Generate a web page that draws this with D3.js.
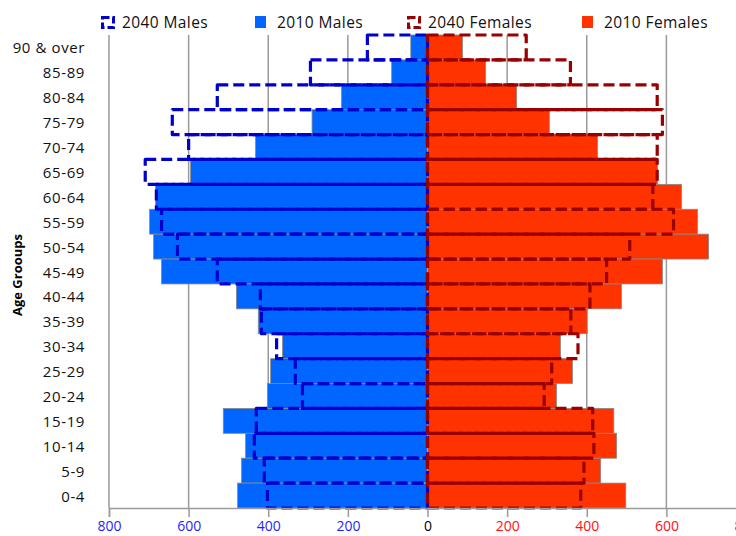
<!DOCTYPE html>
<html>
<head>
<meta charset="utf-8">
<script src="https://cdn.jsdelivr.net/npm/d3@7"></script>
<style>
  body { margin: 0; background: #fff; }
  text { font-family: "Open Sans", "DejaVu Sans", sans-serif; }
</style>
</head>
<body>
<div id="chart"></div>
<script>
// age groups, top to bottom
var ageGroups = ["90 & over", "85-89", "80-84", "75-79", "70-74", "65-69", "60-64", "55-59",
  "50-54", "45-49", "40-44", "35-39", "30-34", "25-29", "20-24", "15-19", "10-14", "5-9", "0-4"];

var males2010 = [42, 90, 216, 290, 432, 595, 683, 698, 688, 668, 480, 425, 364, 394, 402, 513, 457, 467, 477];
var males2040 = [151, 294, 528, 641, 600, 709, 681, 668, 628, 528, 420, 417, 379, 332, 314, 430, 435, 410, 402];
var females2010 = [88, 146, 224, 306, 427, 578, 638, 678, 706, 590, 487, 401, 334, 364, 324, 468, 475, 435, 498];
var females2040 = [248, 359, 577, 590, 577, 577, 566, 618, 508, 450, 408, 360, 378, 312, 293, 415, 418, 393, 385];

var xTicks = [-800, -600, -400, -200, 0, 200, 400, 600, 800];

var legendItems = [
  {name: "2040 Males", dashed: true, color: "#0000CC", x: 101},
  {name: "2010 Males", dashed: false, color: "#0066FF", x: 255},
  {name: "2040 Females", dashed: true, color: "#990000", x: 407},
  {name: "2010 Females", dashed: false, color: "#FF3300", x: 582}
];

var MALE_FILL = "#0066FF", FEMALE_FILL = "#FF3300";
var MALE_LINE = "#0000CC", FEMALE_LINE = "#990000";
var GRID = "#9a9a9a";

var width = 736, height = 536;
var svg = d3.select("#chart").append("svg").attr("width", width).attr("height", height);

var x = d3.scaleLinear().domain([-800, 800]).range([109, 746]);
var y = d3.scaleBand().domain(ageGroups).range([35, 508]).padding(0);

// gridlines
svg.append("g").selectAll("line").data(xTicks.filter(function(d){ return d !== 0; }))
  .enter().append("line")
  .attr("x1", function(d){ return x(d); }).attr("x2", function(d){ return x(d); })
  .attr("y1", 35).attr("y2", 508)
  .attr("stroke", GRID).attr("stroke-width", 1.5);

// 2010 bars
function solidBars(data, sign, fill) {
  svg.append("g").selectAll("rect").data(data).enter().append("rect")
    .attr("x", function(d){ return sign < 0 ? x(-d) : x(0); })
    .attr("width", function(d){ return Math.abs(x(sign * d) - x(0)); })
    .attr("y", function(d, i){ return y(ageGroups[i]); })
    .attr("height", y.bandwidth())
    .attr("fill", fill)
    .attr("stroke", "#888").attr("stroke-width", 0.8);
}
solidBars(males2010, -1, MALE_FILL);
solidBars(females2010, 1, FEMALE_FILL);

// category axis at zero
var axisG = svg.append("g");
axisG.append("line").attr("x1", x(0)).attr("x2", x(0)).attr("y1", 35).attr("y2", 508)
  .attr("stroke", GRID).attr("stroke-width", 1.2);
axisG.selectAll("line.tk").data(ageGroups).enter().append("line").attr("class", "tk")
  .attr("x1", x(0) - 4).attr("x2", x(0) + 4)
  .attr("y1", function(d){ return y(d); }).attr("y2", function(d){ return y(d); })
  .attr("stroke", GRID).attr("stroke-width", 1.2);

// 2040 dashed outlines
function dashedBars(data, sign, color) {
  svg.append("g").selectAll("rect").data(data).enter().append("rect")
    .attr("x", function(d){ return sign < 0 ? x(-d) : x(0); })
    .attr("width", function(d){ return Math.abs(x(sign * d) - x(0)); })
    .attr("y", function(d, i){ return y(ageGroups[i]); })
    .attr("height", y.bandwidth())
    .attr("fill", "none")
    .attr("stroke", color).attr("stroke-width", 3.2)
    .attr("stroke-dasharray", "11,5")
    .attr("stroke-linejoin", "round");
}
dashedBars(males2040, -1, MALE_LINE);
dashedBars(females2040, 1, FEMALE_LINE);

// x axis
var xAxis = svg.append("g").attr("transform", "translate(0,508)")
  .call(d3.axisBottom(x).tickValues(xTicks).tickSize(9).tickFormat(function(d){ return Math.abs(d); }));
xAxis.select(".domain").attr("stroke", GRID).attr("stroke-width", 1.5);
xAxis.selectAll(".tick line").attr("stroke", GRID).attr("stroke-width", 1.5);
xAxis.selectAll(".tick text")
  .attr("y", 13).attr("dy", "0.71em")
  .style("font-size", "14px")
  .attr("fill", function(d){ return d < 0 ? "#1F1FFF" : (d > 0 ? "#FF1010" : "#000"); });

// age labels
var yAxis = svg.append("g").attr("transform", "translate(85,0)")
  .call(d3.axisLeft(y).tickSize(0).tickPadding(0));
yAxis.select(".domain").remove();
yAxis.selectAll(".tick text").style("font-size", "15px").style("letter-spacing", "0.6px")
  .attr("fill", "#111").attr("dy", "0.4em");

svg.append("text")
  .attr("transform", "translate(22,275) rotate(-90)")
  .attr("text-anchor", "middle")
  .style("font-size", "13px").style("font-weight", "bold")
  .text("Age Grooups");

// legend
var leg = svg.append("g").selectAll("g").data(legendItems).enter().append("g")
  .attr("transform", function(d){ return "translate(" + d.x + ",16)"; });
leg.append("rect")
  .attr("x", function(d){ return d.dashed ? 1.5 : 0; })
  .attr("y", function(d){ return d.dashed ? 1.5 : 0; })
  .attr("width", 11)
  .attr("height", function(d){ return d.dashed ? 10 : 12; })
  .attr("fill", function(d){ return d.dashed ? "none" : d.color; })
  .attr("stroke", function(d){ return d.dashed ? d.color : "none"; })
  .attr("stroke-width", 3)
  .attr("stroke-dasharray", function(d){ return d.dashed ? "7,3" : null; });
leg.append("text")
  .attr("x", function(d){ return d.dashed ? 21 : 22; })
  .attr("y", 12)
  .style("font-size", "15.5px").style("letter-spacing", "0.4px")
  .attr("fill", "#111")
  .text(function(d){ return d.name; });
</script>
</body>
</html>
